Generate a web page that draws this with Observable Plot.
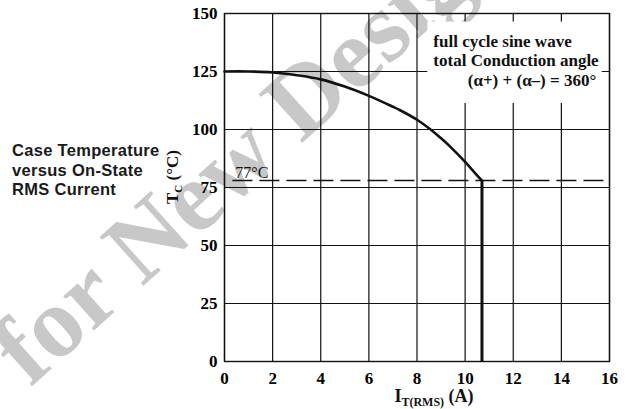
<!DOCTYPE html>
<html>
<head>
<meta charset="utf-8">
<script src="https://cdn.jsdelivr.net/npm/d3@7"></script>
<script src="https://cdn.jsdelivr.net/npm/@observablehq/plot@0.6"></script>
<style>
  html, body { margin: 0; padding: 0; background: #fff; }
</style>
</head>
<body>
<div id="chart"></div>
<script>
// ---- data ----
const xTicks = [0, 2, 4, 6, 8, 10, 12, 14, 16];
const yTicks = [0, 25, 50, 75, 100, 125, 150];
const currentA = [0, 1, 2, 3, 4, 5, 6, 7, 7.3, 8, 8.55, 9, 9.4, 10, 10.43, 10.7];
const tempC    = [125, 125, 124.6, 123.4, 121.6, 118.5, 114.5, 109.8, 108.3, 104.2, 100.1, 96.2, 92.4, 86, 81, 78];
const cutoffA = 10.7;
const cutoffT = 78;
const cutoffLabel = "77°C";
const leftTitle = ["Case Temperature", "versus On-State", "RMS Current"];
const noteLines = ["full cycle sine wave", "total Conduction angle", "(α+) + (α–) = 360°"];
const noteBox = {x1: 8.45, x2: 15.7, y1: 111.2, y2: 146.3};
const watermarkText = "for New Design";

const curveData = currentA.map((a, i) => ({a, t: tempC[i]}));
const serif = "'Liberation Serif', 'Times New Roman', serif";

const svg = Plot.plot({
  width: 637,
  height: 409,
  marginLeft: 224,
  marginRight: 28,
  marginTop: 13,
  marginBottom: 48,
  style: {fontFamily: serif, fontSize: "17px", fontWeight: "bold", color: "#000", background: "#fff"},
  x: {domain: [0, 16], label: null},
  y: {domain: [0, 150], label: null},
  marks: [
    Plot.ruleX(xTicks, {stroke: "#111", strokeWidth: 1.2}),
    Plot.ruleY(yTicks, {stroke: "#111", strokeWidth: 1.2}),
    Plot.rect([noteBox], {x1: "x1", x2: "x2", y1: "y1", y2: "y2", fill: "#fff"}),
    Plot.ruleY([{y: cutoffT, x1: 0.35, x2: 16}], {y: "y", x1: "x1", x2: "x2", stroke: "#111", strokeWidth: 1.5, strokeDasharray: "20,7"}),
    Plot.line(curveData, {x: "a", y: "t", curve: "catmull-rom", stroke: "#111", strokeWidth: 2.6}),
    Plot.ruleX([{x: cutoffA, y1: 0, y2: cutoffT}], {x: "x", y1: "y1", y2: "y2", stroke: "#111", strokeWidth: 3}),
    Plot.frame({stroke: "#111", strokeWidth: 1.4}),
    Plot.axisX(xTicks, {tickSize: 0, tickPadding: 10, label: null, fontSize: 17, fontWeight: "bold"}),
    Plot.axisY(yTicks, {tickSize: 0, tickPadding: 7, label: null, fontSize: 17, fontWeight: "bold"}),
    Plot.text([cutoffLabel], {x: () => 0.45, y: () => cutoffT + 1, text: d => d, textAnchor: "start", lineAnchor: "bottom", fontSize: 16, fontWeight: "normal", fill: "#111"}),
    Plot.text([noteLines[0]], {x: () => 8.68, y: () => 135.6, text: d => d, textAnchor: "start", lineAnchor: "bottom", fontSize: 17, fill: "#111"}),
    Plot.text([noteLines[1]], {x: () => 8.68, y: () => 127.4, text: d => d, textAnchor: "start", lineAnchor: "bottom", fontSize: 17, fill: "#111"}),
    Plot.text([noteLines[2]], {x: () => 15.45, y: () => 118.8, text: d => d, textAnchor: "end", lineAnchor: "bottom", fontSize: 17, fill: "#111"})
  ]
});

const s = d3.select(svg);

// watermark (behind everything)
s.insert("text", "g")
  .attr("transform", "translate(30,388) rotate(-42)")
  .attr("text-anchor", "start")
  .attr("font-family", serif)
  .attr("font-weight", "bold")
  .attr("font-size", 100)
  .attr("fill", "#c8c8c8")
  .text(watermarkText);

// x-axis title
const xt = s.append("text")
  .attr("x", 434).attr("y", 402)
  .attr("text-anchor", "middle")
  .attr("font-family", serif).attr("font-weight", "bold").attr("font-size", 18).attr("fill", "#111");
xt.append("tspan").text("I");
xt.append("tspan").attr("font-size", 12).attr("dy", 3.5).text("T(RMS)");
xt.append("tspan").attr("dy", -3.5).text(" (A)");

// y-axis title
const yt = s.append("text")
  .attr("transform", "translate(178,177) rotate(-90)")
  .attr("text-anchor", "middle")
  .attr("font-family", serif).attr("font-weight", "bold").attr("font-size", 17).attr("fill", "#111");
yt.append("tspan").text("T");
yt.append("tspan").attr("font-size", 11).attr("dy", 4).text("C");
yt.append("tspan").attr("dy", -4).text(" (°C)");

// left side title
const lt = s.append("text")
  .attr("text-anchor", "start")
  .attr("font-family", "'Liberation Sans', Arial, sans-serif")
  .attr("font-weight", "bold").attr("font-size", 16.5).attr("letter-spacing", 0.3).attr("fill", "#1a1a1a");
leftTitle.forEach((line, i) => {
  lt.append("tspan").attr("x", 12).attr("y", 156 + i * 19.5).text(line);
});

document.getElementById("chart").appendChild(svg);
</script>
</body>
</html>
